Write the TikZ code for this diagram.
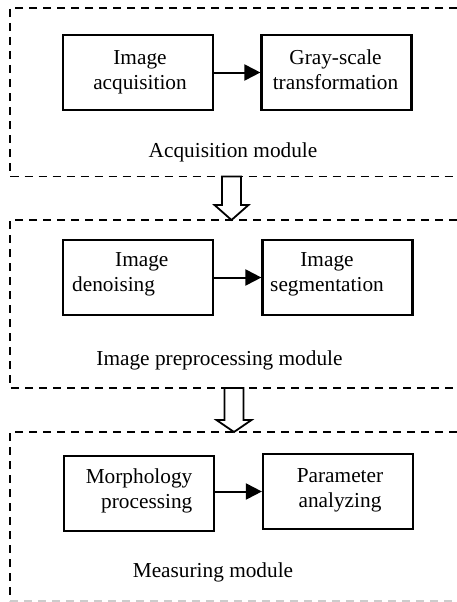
\documentclass[tikz,border=0pt]{standalone}
\usepackage{fontspec}
\setmainfont{Liberation Serif}
\usetikzlibrary{arrows.meta,calc}
\begin{document}
\begin{tikzpicture}[x=1pt,y=-1pt,
  font=\fontsize{21.3}{25}\selectfont,
  stage/.style={draw, line width=2.2pt, minimum width=150pt, minimum height=75pt, inner sep=0pt},
  txt/.style={align=center, inner sep=0pt, anchor=base},
  flow/.style={line width=2pt, -{Triangle[length=16pt,width=16pt]}},
  frame/.style={line width=1.8pt, dash pattern=on 8pt off 6pt},
  hollow/.style={line width=1.8pt, fill=white, line join=miter}]
\useasboundingbox (0,0) rectangle (457,602);

% module frames, open on the right
\draw[frame] (457,8) -- (10,8) -- (10,176.5) -- (457,176.5);
\draw[frame] (457,220) -- (10,220) -- (10,388) -- (457,388);
\draw[frame] (457,432) -- (10,432) -- (10,601);
\draw[frame, gray!40] (10,601) -- (457,601);

% frame anchors for the hollow arrows
\coordinate (b1) at (231.5,176.5);
\coordinate (t2) at (231.5,220);
\coordinate (b2) at (234,388);
\coordinate (t3) at (234,432);

% acquisition module (node base = last line's baseline)
\node[stage] (A1) at (138,72.5) {};
\node[stage] (A2) at (336.5,72.5) {};
\node[txt] (A1t) at (140,89) {Image\\acquisition};
\node[txt] (A2t) at (335.5,89) {Gray-scale\\transformation};
\node[txt] (Am) at (233,157.5) {Acquisition module};
\draw[flow] (A1.east) -- (A2.west);

% preprocessing module
\node[stage] (P1) at (138,277.5) {};
\node[stage] (P2) at (337.5,277.5) {};
\node[txt, align=left, anchor=base west] (P1t) at (72,291) {\hspace*{43pt}Image\\denoising};
\node[txt] (P2t) at (327,291) {Image\\segmentation};
\node[txt] (Pm) at (219.5,365) {Image preprocessing module};
\draw[flow] (P1.east) -- (P2.west);

% measuring module
\node[stage] (M1) at (139,493.5) {};
\node[stage] (M2) at (338,491.5) {};
\node[txt, align=right, anchor=base east] (M1t) at (192.5,508) {Morphology\\processing};
\node[txt] (M2t) at (340,507) {Parameter\\analyzing};
\node[txt] (Mm) at (213,577) {Measuring module};
\draw[flow] (M1.east |- M2.west) -- (M2.west);

% hollow arrows between modules
\draw[hollow] ($(b1)+(-9.5,0)$) -- ($(t2)+(-9.5,-15)$) -- ($(t2)+(-17,-15)$) -- (t2)
  -- ($(t2)+(17,-15)$) -- ($(t2)+(9.5,-15)$) -- ($(b1)+(9.5,0)$) -- cycle;
\draw[hollow] ($(b2)+(-9.5,0)$) -- ($(t3)+(-9.5,-12)$) -- ($(t3)+(-17.5,-12)$) -- (t3)
  -- ($(t3)+(17.5,-12)$) -- ($(t3)+(9.5,-12)$) -- ($(b2)+(9.5,0)$) -- cycle;
\end{tikzpicture}
\end{document}
